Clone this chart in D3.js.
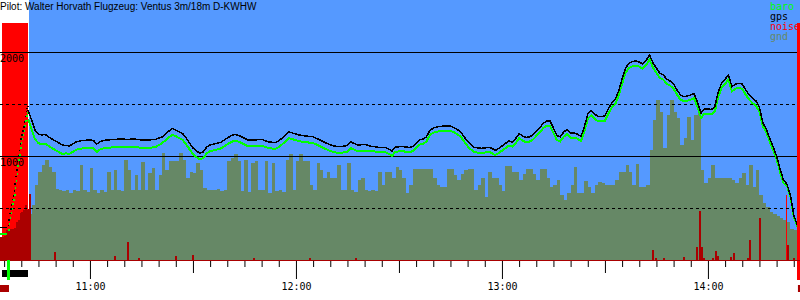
<!DOCTYPE html>
<html>
<head>
<meta charset="utf-8">
<script src="https://cdnjs.cloudflare.com/ajax/libs/d3/7.8.5/d3.min.js"></script>
<style>
body { margin: 0; background: #fff; }
svg { display: block; }
.mono { font-family: "DejaVu Sans Mono", monospace; font-size: 10px; }
.crisp { shape-rendering: crispEdges; }
</style>
</head>
<body>
<div id="barogramm"></div>
<script>
// header + legend
var title = "Pilot: Walter Horvath Flugzeug: Ventus 3m/18m D-KWHW";
var legendKeys = ["baro", "gps", "noise", "gnd"];
var legendColors = ["#00ff00", "#000000", "#ff0000", "#668866"];

// axes
var altGrid = [500, 1000, 1500, 2000];
var altLabels = [1000, 2000];
var hourLabels = ["11:00", "12:00", "13:00", "14:00"];
var viewStart = "10:33:48", viewEnd = "14:26:49";

// events
var towWindow = ["10:34:23", "10:41:57"];
var takeoff = "10:36:16";
var landing = "14:25:56";
var logMarks = [["10:33:48", "10:36:25"], ["14:26:13", "14:26:49"]];

// ground roll + tow (drawn as dots)
var groundTimes = ["10:33:40", "10:35:50"];
var groundGps = [310, 310];
var groundBaro = [250, 250];
var towTimes = ["10:36:00", "10:36:15", "10:36:30", "10:36:45", "10:37:00", "10:37:15", "10:37:30", "10:37:45",
    "10:38:00", "10:38:15", "10:38:30", "10:38:45", "10:39:00", "10:39:15", "10:39:30", "10:39:45",
    "10:40:00", "10:40:15", "10:40:30", "10:40:45", "10:41:00", "10:41:15", "10:41:30", "10:41:45"];
var towGps = [337, 394, 452, 500, 538, 587, 625, 673, 740, 808, 875, 952, 1010, 1058, 1125, 1173,
    1211, 1250, 1288, 1336, 1385, 1433, 1462, 1481];
var towBaro = [297, 354, 412, 460, 498, 547, 585, 633, 700, 768, 835, 912, 970, 1018, 1085, 1133,
    1171, 1210, 1248, 1296, 1345, 1393, 1422, 1441];

// free flight
var flightTimes = ["10:42", "10:43", "10:44", "10:45", "10:46", "10:47", "10:48", "10:49", "10:50", "10:51",
    "10:52", "10:53", "10:54", "10:55", "10:56", "10:57", "10:58", "11:00", "11:01", "11:02",
    "11:03", "11:04", "11:05", "11:07", "11:09", "11:11", "11:13", "11:15", "11:17", "11:19",
    "11:21", "11:22", "11:23", "11:24", "11:25", "11:26", "11:27", "11:28", "11:29", "11:30",
    "11:31", "11:32", "11:33", "11:34", "11:35", "11:36", "11:38", "11:40", "11:41", "11:42",
    "11:43", "11:44", "11:46", "11:48", "11:50", "11:52", "11:54", "11:55", "11:56", "11:57",
    "11:58", "11:59", "12:01", "12:03", "12:05", "12:07", "12:08", "12:09", "12:11", "12:13",
    "12:15", "12:16", "12:17", "12:18", "12:20", "12:22", "12:24", "12:26", "12:27", "12:28",
    "12:29", "12:31", "12:33", "12:34", "12:35", "12:36", "12:37", "12:38", "12:39", "12:40",
    "12:41", "12:43", "12:45", "12:46", "12:47", "12:48", "12:49", "12:50", "12:51", "12:52",
    "12:54", "12:56", "12:57", "12:58", "12:59", "13:00", "13:01", "13:02", "13:03", "13:04",
    "13:05", "13:06", "13:07", "13:08", "13:09", "13:10", "13:11", "13:12", "13:13", "13:14",
    "13:15", "13:16", "13:17", "13:18", "13:19", "13:20", "13:21", "13:22", "13:23", "13:24",
    "13:25", "13:26", "13:27", "13:28", "13:29", "13:30", "13:31", "13:32", "13:33", "13:34",
    "13:35", "13:36", "13:37", "13:38", "13:39", "13:40", "13:41", "13:42", "13:43", "13:44",
    "13:45", "13:46", "13:47", "13:48", "13:49", "13:50", "13:51", "13:52", "13:53", "13:54",
    "13:55", "13:56", "13:57", "13:58", "13:59", "14:00", "14:01", "14:02", "14:03", "14:04",
    "14:05", "14:06", "14:07", "14:08", "14:09", "14:10", "14:11", "14:12", "14:13", "14:14",
    "14:15", "14:16", "14:17", "14:18", "14:19", "14:20", "14:21", "14:22", "14:23", "14:24",
    "14:25", "14:26", "14:27"];
var gpsAlt = [1440, 1346, 1250, 1211, 1202, 1207, 1183, 1163, 1144, 1125,
    1106, 1101, 1096, 1115, 1135, 1144, 1149, 1154, 1150, 1115,
    1139, 1150, 1154, 1159, 1163, 1160, 1163, 1154, 1154, 1159,
    1183, 1211, 1240, 1264, 1250, 1231, 1216, 1173, 1125, 1077,
    1048, 1029, 1039, 1087, 1106, 1115, 1130, 1173, 1192, 1207,
    1202, 1187, 1154, 1154, 1160, 1137, 1128, 1144, 1173, 1202,
    1231, 1221, 1202, 1192, 1185, 1154, 1137, 1122, 1096, 1089,
    1101, 1135, 1120, 1106, 1111, 1093, 1084, 1082, 1067, 1048,
    1087, 1091, 1082, 1091, 1125, 1154, 1163, 1183, 1245, 1269,
    1279, 1288, 1288, 1274, 1255, 1231, 1183, 1139, 1106, 1082,
    1074, 1082, 1077, 1053, 1072, 1096, 1120, 1144, 1135, 1168,
    1216, 1192, 1178, 1183, 1202, 1236, 1269, 1314, 1336, 1336,
    1269, 1197, 1185, 1231, 1255, 1221, 1221, 1211, 1187, 1279,
    1404, 1437, 1404, 1380, 1380, 1385, 1452, 1510, 1543, 1625,
    1740, 1846, 1889, 1909, 1913, 1904, 1885, 1918, 1971, 1894,
    1846, 1795, 1779, 1740, 1721, 1692, 1635, 1587, 1572, 1577,
    1587, 1601, 1510, 1413, 1452, 1452, 1447, 1471, 1615, 1702,
    1740, 1779, 1666, 1692, 1699, 1692, 1635, 1587, 1553, 1529,
    1471, 1317, 1260, 1168, 1087, 1000, 875, 769, 731, 625,
    433, 337, 317];
var baroAlt = [1352, 1258, 1162, 1123, 1114, 1119, 1095, 1075, 1056, 1037,
    1018, 1026, 1021, 1040, 1060, 1069, 1074, 1079, 1075, 1040,
    1064, 1075, 1079, 1084, 1088, 1085, 1088, 1079, 1079, 1084,
    1123, 1151, 1180, 1204, 1190, 1171, 1156, 1113, 1065, 1017,
    988, 969, 979, 1027, 1046, 1055, 1070, 1113, 1132, 1147,
    1142, 1127, 1094, 1094, 1100, 1077, 1068, 1084, 1113, 1142,
    1171, 1161, 1142, 1132, 1125, 1094, 1077, 1062, 1036, 1029,
    1041, 1075, 1060, 1046, 1051, 1048, 1039, 1037, 1022, 1003,
    1042, 1046, 1037, 1046, 1080, 1109, 1118, 1138, 1200, 1224,
    1234, 1243, 1243, 1229, 1210, 1186, 1138, 1094, 1061, 1037,
    1029, 1037, 1032, 1008, 1027, 1051, 1075, 1099, 1090, 1123,
    1171, 1147, 1133, 1138, 1157, 1191, 1224, 1269, 1291, 1291,
    1224, 1152, 1140, 1186, 1210, 1176, 1176, 1166, 1142, 1234,
    1359, 1392, 1359, 1335, 1335, 1340, 1407, 1465, 1498, 1580,
    1695, 1801, 1844, 1864, 1868, 1859, 1840, 1873, 1926, 1849,
    1801, 1750, 1734, 1695, 1676, 1647, 1590, 1542, 1527, 1532,
    1542, 1556, 1465, 1368, 1407, 1407, 1402, 1426, 1570, 1657,
    1695, 1734, 1621, 1647, 1654, 1647, 1590, 1542, 1508, 1484,
    1426, 1287, 1230, 1138, 1057, 970, 845, 739, 719, 613,
    421, 325, 305];

// terrain below the track, one value per minute from gndStart
var gndStart = "10:42";
var gndAlt = [442, 529, 721, 846, 913, 962, 894, 846, 683, 673,
    663, 673, 644, 673, 663, 913, 673, 654, 885, 673,
    644, 673, 654, 846, 673, 865, 673, 663, 962, 865,
    673, 817, 673, 942, 673, 836, 885, 673, 817, 1029,
    865, 952, 952, 952, 1029, 962, 788, 846, 836, 933,
    865, 692, 673, 673, 673, 683, 663, 673, 952, 981,
    1019, 952, 663, 962, 654, 933, 952, 673, 673, 952,
    644, 933, 663, 673, 654, 962, 1019, 673, 952, 1019,
    952, 952, 721, 673, 933, 865, 788, 846, 788, 788,
    913, 673, 673, 933, 673, 654, 769, 788, 673, 663,
    673, 663, 846, 721, 846, 846, 788, 894, 865, 788,
    644, 721, 875, 875, 875, 875, 875, 875, 788, 721,
    702, 702, 875, 875, 817, 769, 827, 865, 875, 875,
    673, 721, 788, 606, 846, 788, 788, 721, 663, 904,
    904, 846, 846, 769, 827, 875, 875, 827, 769, 875,
    875, 788, 702, 721, 769, 625, 577, 644, 721, 894,
    644, 644, 760, 702, 644, 721, 750, 740, 721, 721,
    721, 769, 846, 846, 913, 846, 721, 923, 702, 702,
    721, 1058, 1346, 1538, 1423, 1077, 1394, 1538, 1423, 1365,
    1106, 1173, 1375, 1154, 1394, 1442, 865, 740, 788, 913,
    788, 788, 788, 788, 788, 769, 740, 788, 836, 721,
    913, 702, 865, 625, 548, 510, 462, 442, 423, 404,
    385, 365, 298, 288, 308];

// engine noise level (0..1000)
var noiseTimes = ["10:33:30", "10:34:00", "10:34:30", "10:35:00", "10:35:30", "10:36:00", "10:36:30", "10:37:00",
    "10:37:30", "10:38:00", "10:38:30", "10:39:00", "10:39:30", "10:40:00", "10:40:30", "10:41:00",
    "10:41:30", "10:42:00", "10:42:20", "10:49:32", "11:07:09", "11:10:47", "11:14:00", "11:24:46",
    "11:29:43", "11:47:29", "12:03:48", "12:17:12", "13:43:42", "13:44:35", "13:46:55", "13:52:44",
    "13:56:31", "13:57:24", "13:57:58", "13:58:34", "14:01:11", "14:02:03", "14:02:38", "14:06:25",
    "14:07:18", "14:11:23", "14:11:58", "14:14:44", "14:23:02", "14:24:55", "14:25:56", "14:26:20"];
var noiseLevel = [88, 88, 88, 92, 115, 115, 119, 119,
    119, 123, 146, 154, 181, 185, 192, 212,
    192, 196, 254, 31, 15, 69, 8, 15,
    19, 8, 6, 6, 38, 8, 8, 12,
    50, 190, 50, 8, 8, 35, 15, 12,
    27, 8, 77, 162, 58, 8, 108, 108];
var noiseAlarmTimes = ["14:22:44"];
var noiseAlarmLevel = [250];

var W = 800, H = 300, plotBottom = 260, zoneTop = 23;
var parseHM = d3.timeParse("%H:%M");
var parseHMS = d3.timeParse("%H:%M:%S");

var svg = d3.select("#barogramm").append("svg")
    .attr("width", W)
    .attr("height", H);

var x = d3.scaleTime()
    .domain([parseHMS(viewStart), parseHMS(viewEnd)])
    .range([0, W]);
var y = d3.scaleLinear()
    .domain([0, 2500])
    .range([plotBottom, 0]);
var yNoise = d3.scaleLinear()
    .domain([0, 1000])
    .range([plotBottom, 0]);

var towStartX = x(parseHMS(towWindow[0])), towEndX = x(parseHMS(towWindow[1]));

// sky
svg.append("rect")
    .attr("x", Math.round(towEndX) + 1)
    .attr("y", 0)
    .attr("width", W - Math.round(towEndX) - 1)
    .attr("height", plotBottom)
    .attr("fill", "#5599ff");

// terrain
var gnd = gndAlt.map(function(v, i) { return {t: d3.timeMinute.offset(parseHM(gndStart), i), v: v}; });
gnd.push({t: d3.timeMinute.offset(parseHM(gndStart), gndAlt.length), v: gndAlt[gndAlt.length - 1]});
svg.append("path")
    .datum(gnd)
    .attr("class", "crisp")
    .attr("fill", "#668866")
    .attr("d", d3.area()
        .curve(d3.curveStepAfter)
        .x(function(d) { return x(d.t); })
        .y0(plotBottom)
        .y1(function(d) { return y(d.v); }));

// tow zone
svg.append("rect")
    .attr("x", Math.round(towStartX))
    .attr("y", zoneTop)
    .attr("width", Math.round(towEndX) - Math.round(towStartX))
    .attr("height", plotBottom - zoneTop)
    .attr("fill", "#ff0000");

// noise bars
svg.append("g").attr("class", "crisp").selectAll("rect")
    .data(noiseTimes)
    .enter().append("rect")
    .attr("x", function(d) { return x(parseHMS(d)); })
    .attr("y", function(d, i) { return yNoise(noiseLevel[i]); })
    .attr("width", 2)
    .attr("height", function(d, i) { return plotBottom - yNoise(noiseLevel[i]); })
    .attr("fill", "#aa0000");
svg.append("g").attr("class", "crisp").selectAll("rect")
    .data(noiseAlarmTimes)
    .enter().append("rect")
    .attr("x", function(d) { return x(parseHMS(d)); })
    .attr("y", function(d, i) { return yNoise(noiseAlarmLevel[i]); })
    .attr("width", 1)
    .attr("height", function(d, i) { return plotBottom - yNoise(noiseAlarmLevel[i]); })
    .attr("fill", "#ff0000");

// altitude grid
svg.append("g").attr("class", "crisp").selectAll("line")
    .data(altGrid)
    .enter().append("line")
    .attr("x1", 0)
    .attr("x2", W)
    .attr("y1", function(d) { return y(d) + 0.5; })
    .attr("y2", function(d) { return y(d) + 0.5; })
    .attr("stroke", "#000")
    .attr("stroke-dasharray", function(d) { return d % 1000 ? "3,3" : null; });

svg.append("g").selectAll("text")
    .data(altLabels)
    .enter().append("text")
    .attr("class", "mono")
    .attr("x", 0)
    .attr("y", function(d) { return y(d) + 10; })
    .attr("fill", "#000")
    .text(function(d) { return d; });

// ground roll and tow
var groundLine = d3.line()
    .x(function(d) { return x(parseHMS(d)); });
svg.append("path")
    .datum(groundTimes)
    .attr("class", "crisp")
    .attr("fill", "none").attr("stroke", "#00ff00").attr("stroke-width", 2)
    .attr("d", groundLine.y(function(d, i) { return y(groundBaro[i]); }));
svg.append("path")
    .datum(groundTimes)
    .attr("class", "crisp")
    .attr("fill", "none").attr("stroke", "#000").attr("stroke-width", 1)
    .attr("d", groundLine.y(function(d, i) { return y(groundGps[i]); }));

svg.append("g").attr("class", "crisp").selectAll("rect")
    .data(towTimes)
    .enter().append("rect")
    .attr("x", function(d) { return x(parseHMS(d)) + 0.5; })
    .attr("y", function(d, i) { return y(towBaro[i]); })
    .attr("width", 1.5).attr("height", 1.5)
    .attr("fill", "#00ff00");
svg.append("g").attr("class", "crisp").selectAll("rect")
    .data(towTimes)
    .enter().append("rect")
    .attr("x", function(d) { return x(parseHMS(d)); })
    .attr("y", function(d, i) { return y(towGps[i]); })
    .attr("width", 1.5).attr("height", 1.5)
    .attr("fill", "#000");

// barogram
var flightLine = d3.line()
    .x(function(d) { return x(parseHM(d)); });
svg.append("path")
    .datum(flightTimes)
    .attr("class", "crisp")
    .attr("fill", "none")
    .attr("stroke", "#00ff00")
    .attr("stroke-width", 2)
    .attr("d", flightLine.y(function(d, i) { return y(baroAlt[i]); }));
svg.append("path")
    .datum(flightTimes)
    .attr("class", "crisp")
    .attr("fill", "none")
    .attr("stroke", "#000")
    .attr("stroke-width", 1.5)
    .attr("d", flightLine.y(function(d, i) { return y(gpsAlt[i]); }));

// landing marker
svg.append("rect")
    .attr("x", Math.round(x(parseHMS(landing))))
    .attr("y", zoneTop)
    .attr("width", W - Math.round(x(parseHMS(landing))))
    .attr("height", 280 - zoneTop)
    .attr("fill", "#ff0000");

// noise baseline
svg.append("rect")
    .attr("x", 0).attr("y", plotBottom)
    .attr("width", W).attr("height", 1)
    .attr("fill", "#aa0000");

// time axis
var axisG = svg.append("g")
    .attr("transform", "translate(0," + (plotBottom + 1) + ")")
    .call(d3.axisBottom(x)
        .ticks(d3.timeMinute.every(5))
        .tickSize(6)
        .tickFormat(""));
axisG.select(".domain").remove();
axisG.selectAll(".tick line")
    .attr("stroke", "#000")
    .attr("y2", function(d) { return d.getMinutes() === 0 ? 18 : (d.getMinutes() === 30 ? 12 : 6); });

svg.append("g").selectAll("text")
    .data(hourLabels)
    .enter().append("text")
    .attr("class", "mono")
    .attr("x", function(d) { return x(parseHM(d)) + 0.5; })
    .attr("y", 290)
    .attr("text-anchor", "middle")
    .attr("fill", "#000")
    .text(function(d) { return d; });

// timeline strip below the axis
svg.append("rect")
    .attr("x", Math.round(towStartX)).attr("y", 270)
    .attr("width", Math.round(towEndX) - Math.round(towStartX)).attr("height", 7)
    .attr("fill", "#000");
svg.append("rect")
    .attr("x", x(parseHMS(takeoff)) - 1.5).attr("y", plotBottom)
    .attr("width", 3).attr("height", 20)
    .attr("fill", "#00ff00");
svg.append("g").selectAll("rect")
    .data(logMarks)
    .enter().append("rect")
    .attr("x", function(d) { return x(parseHMS(d[0])); })
    .attr("y", 285)
    .attr("width", function(d) { return x(parseHMS(d[1])) - x(parseHMS(d[0])); })
    .attr("height", 7)
    .attr("fill", "#aa0000");

// legend
svg.append("g").selectAll("text")
    .data(legendKeys)
    .enter().append("text")
    .attr("class", "mono")
    .attr("x", 770)
    .attr("y", function(d, i) { return 10 + i * 10; })
    .attr("fill", function(d, i) { return legendColors[i]; })
    .text(function(d) { return d; });

// title
svg.append("text")
    .attr("x", 0)
    .attr("y", 10)
    .attr("font-family", "Liberation Sans, Arial, sans-serif")
    .attr("font-size", 10)
    .attr("fill", "#000")
    .text(title);
</script>
</body>
</html>
